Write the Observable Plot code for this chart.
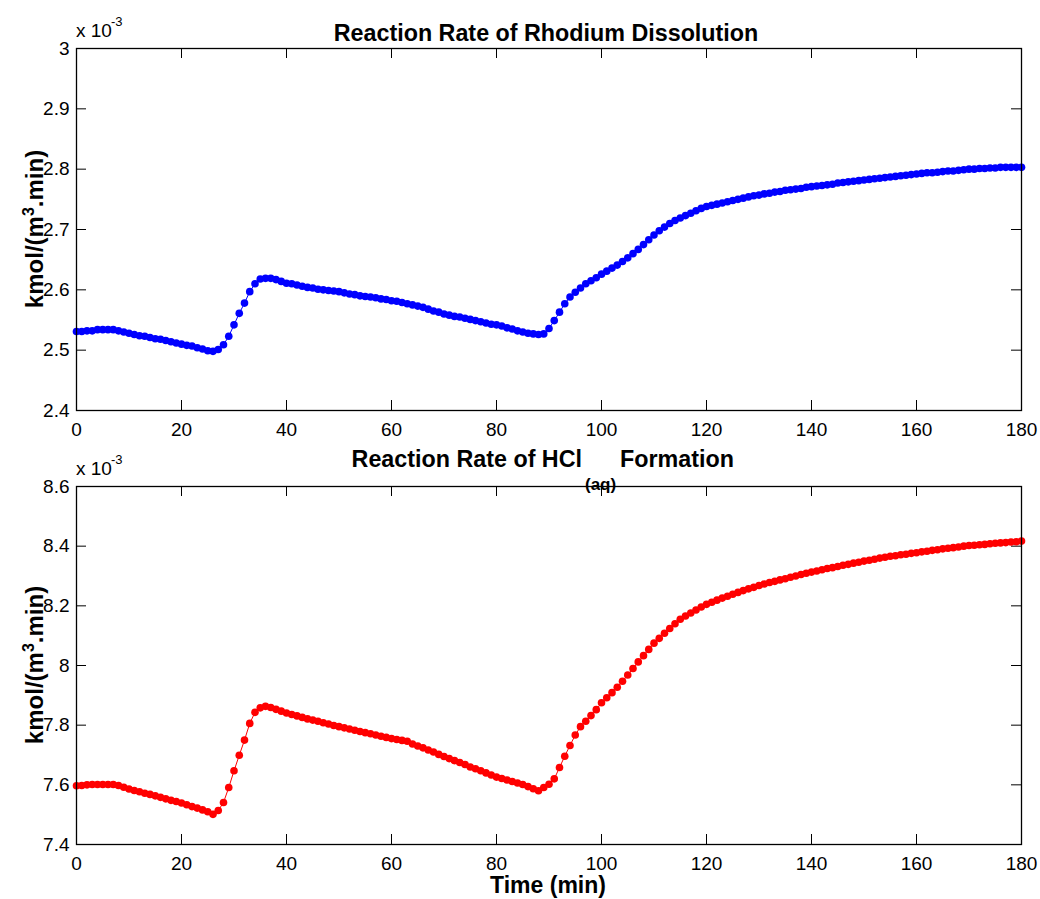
<!DOCTYPE html>
<html><head><meta charset="utf-8">
<script src="https://cdn.jsdelivr.net/npm/d3@7"></script>
<script src="https://cdn.jsdelivr.net/npm/@observablehq/plot@0.6"></script>
<style>body{margin:0;background:#fff} #chart svg{display:block}</style>
</head><body><div id="chart"></div>
<script>
// Time grid: one sample per minute, 0..180 min
const time = d3.range(0, 181);

const xTicks = [0, 20, 40, 60, 80, 100, 120, 140, 160, 180];
const rhTicks = [2.4, 2.5, 2.6, 2.7, 2.8, 2.9, 3];
const hclTicks = [7.4, 7.6, 7.8, 8, 8.2, 8.4, 8.6];

// Reaction rate of rhodium dissolution (x 10^-3 kmol/(m^3.min))
const rhodiumRate = [
2.531,2.531,2.532,2.532,2.534,2.534,2.534,2.534,2.532,2.530,
2.528,2.526,2.524,2.523,2.521,2.519,2.518,2.516,2.514,2.512,
2.510,2.508,2.507,2.504,2.502,2.499,2.498,2.501,2.509,2.523,
2.542,2.561,2.578,2.597,2.610,2.618,2.619,2.619,2.617,2.614,
2.611,2.610,2.608,2.606,2.604,2.603,2.601,2.600,2.599,2.598,
2.597,2.595,2.593,2.592,2.590,2.589,2.588,2.587,2.585,2.584,
2.582,2.581,2.579,2.577,2.575,2.573,2.571,2.568,2.565,2.563,
2.560,2.558,2.556,2.555,2.553,2.551,2.549,2.547,2.545,2.543,
2.542,2.540,2.537,2.535,2.532,2.530,2.528,2.527,2.526,2.527,
2.536,2.549,2.563,2.577,2.588,2.596,2.603,2.610,2.615,2.620,
2.626,2.631,2.636,2.641,2.647,2.653,2.660,2.667,2.675,2.683,
2.691,2.698,2.704,2.710,2.715,2.719,2.723,2.727,2.731,2.735,
2.738,2.740,2.742,2.744,2.746,2.748,2.750,2.752,2.754,2.756,
2.757,2.759,2.760,2.762,2.763,2.765,2.766,2.767,2.768,2.770,
2.771,2.772,2.773,2.774,2.775,2.777,2.778,2.779,2.780,2.781,
2.782,2.783,2.784,2.785,2.786,2.787,2.788,2.789,2.790,2.791,
2.792,2.793,2.794,2.794,2.795,2.796,2.797,2.797,2.798,2.799,
2.800,2.800,2.801,2.801,2.802,2.802,2.803,2.803,2.803,2.803,
2.803
];

// Reaction rate of HCl(aq) formation (x 10^-3 kmol/(m^3.min))
const hclRate = [
7.597,7.598,7.600,7.601,7.601,7.601,7.601,7.601,7.598,7.592,
7.586,7.581,7.577,7.572,7.568,7.563,7.558,7.553,7.548,7.544,
7.539,7.533,7.527,7.522,7.516,7.510,7.501,7.514,7.541,7.591,
7.647,7.699,7.750,7.806,7.843,7.858,7.863,7.859,7.853,7.847,
7.841,7.836,7.831,7.826,7.821,7.817,7.813,7.808,7.804,7.799,
7.795,7.791,7.787,7.783,7.779,7.775,7.771,7.767,7.763,7.759,
7.755,7.752,7.749,7.746,7.737,7.730,7.724,7.717,7.710,7.702,
7.695,7.688,7.681,7.675,7.668,7.660,7.654,7.647,7.640,7.633,
7.626,7.621,7.616,7.611,7.606,7.601,7.594,7.587,7.580,7.591,
7.602,7.620,7.658,7.696,7.732,7.767,7.795,7.813,7.832,7.852,
7.875,7.892,7.909,7.927,7.947,7.968,7.990,8.012,8.033,8.054,
8.075,8.091,8.108,8.124,8.140,8.155,8.166,8.176,8.186,8.196,
8.205,8.212,8.219,8.226,8.232,8.239,8.245,8.251,8.257,8.262,
8.268,8.273,8.278,8.282,8.287,8.291,8.296,8.300,8.305,8.309,
8.313,8.317,8.321,8.325,8.328,8.332,8.336,8.339,8.343,8.346,
8.350,8.353,8.356,8.360,8.363,8.366,8.368,8.371,8.373,8.376,
8.378,8.381,8.383,8.386,8.388,8.391,8.393,8.395,8.397,8.400,
8.402,8.403,8.405,8.406,8.408,8.410,8.411,8.412,8.414,8.415,
8.417
];

const FONT = "'Liberation Sans', Arial, Helvetica, sans-serif";
const W = 1040, ML = 76, MR = 19;

function panel({values, color, yDomain, yTicks, height, marginTop, marginBottom}) {
  const data = time.map((t, i) => ({t, v: values[i]}));
  const plotH = height - marginTop - marginBottom;
  const plotW = W - ML - MR;
  const tl = 10;
  return Plot.plot({
    width: W, height, marginTop, marginBottom, marginLeft: ML, marginRight: MR,
    style: {fontFamily: FONT, fontSize: "19px", color: "#000", background: "#fff", overflow: "visible"},
    x: {domain: [0, 180]},
    y: {domain: yDomain},
    marks: [
      Plot.axisX(xTicks, {tickSize: 0, tickPadding: 12, label: null, tickFormat: d => String(d)}),
      Plot.axisY(yTicks, {tickSize: 0, tickPadding: 7, label: null, tickFormat: d => String(d)}),
      Plot.tickX(xTicks, {x: d => d, insetTop: plotH - tl, stroke: "#000"}),
      Plot.tickX(xTicks, {x: d => d, insetBottom: plotH - tl, stroke: "#000"}),
      Plot.tickY(yTicks, {y: d => d, insetRight: plotW - tl, stroke: "#000"}),
      Plot.tickY(yTicks, {y: d => d, insetLeft: plotW - tl, stroke: "#000"}),
      Plot.line(data, {x: "t", y: "v", stroke: color, strokeWidth: 1}),
      Plot.dot(data, {x: "t", y: "v", r: 3.8, fill: color, stroke: "none"}),
      Plot.frame({stroke: "#000", strokeWidth: 1.3})
    ]
  });
}

function txt(svg, x, y, s, opts = {}) {
  return d3.select(svg).append("text")
    .attr("x", x).attr("y", y)
    .attr("text-anchor", opts.anchor || "middle")
    .attr("font-weight", opts.bold ? "bold" : "normal")
    .attr("font-size", opts.size || 19)
    .attr("fill", "#000").attr("font-family", FONT)
    .text(s);
}

function addYLabel(svg, cy) {
  const t = d3.select(svg).append("text")
    .attr("transform", `translate(43,${cy}) rotate(-90)`)
    .attr("text-anchor", "middle").attr("font-weight", "bold")
    .attr("font-size", 24).attr("fill", "#000").attr("font-family", FONT);
  t.append("tspan").text("kmol/(m");
  t.append("tspan").attr("font-size", 16).attr("dy", -9).text("3");
  t.append("tspan").attr("font-size", 24).attr("dy", 9).text(".min)");
}
function addExponent(svg, y) {
  txt(svg, 76, y, "x 10", {anchor: "start", size: 19});
  txt(svg, 111, y - 11, "-3", {anchor: "start", size: 13});
}

const chart = document.getElementById("chart");

// Top panel
const h1 = 450, mt1 = 48, mb1 = 40;
const svg1 = panel({values: rhodiumRate, color: "#0000ff", yDomain: [2.4, 3], yTicks: rhTicks,
  height: h1, marginTop: mt1, marginBottom: mb1});
txt(svg1, 546, 41, "Reaction Rate of Rhodium Dissolution", {bold: true, size: 23.3});
addExponent(svg1, 37);
addYLabel(svg1, (mt1 + h1 - mb1) / 2);
chart.appendChild(svg1);

// Bottom panel
const h2 = 449, mt2 = 36, mb2 = 55;
const svg2 = panel({values: hclRate, color: "#ff0000", yDomain: [7.4, 8.6], yTicks: hclTicks,
  height: h2, marginTop: mt2, marginBottom: mb2});
txt(svg2, 582, 17, "Reaction Rate of HCl", {bold: true, size: 23.3, anchor: "end"});
txt(svg2, 585, 40, "(aq)", {bold: true, size: 17, anchor: "start"});
txt(svg2, 620, 17, "Formation", {bold: true, size: 23.3, anchor: "start"});
addExponent(svg2, 25);
addYLabel(svg2, (mt2 + h2 - mb2) / 2);
txt(svg2, 548, 443, "Time (min)", {bold: true, size: 23});
chart.appendChild(svg2);
</script>
</body></html>
